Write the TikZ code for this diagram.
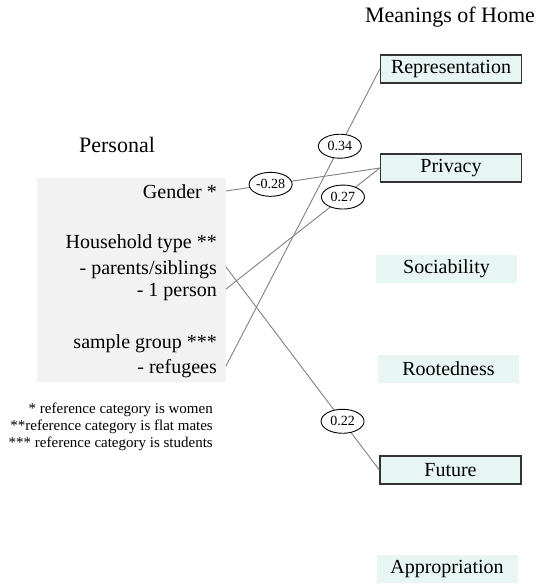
\documentclass[tikz,border=0pt]{standalone}
\usepackage{fontspec}
\setmainfont{Liberation Serif}
\usetikzlibrary{shapes.geometric}
\definecolor{meaningFill}{RGB}{232,246,243}
\definecolor{personalFill}{RGB}{242,242,242}
\begin{document}
\begin{tikzpicture}
[x=1pt,y=-1pt,
  thinLine/.style={-,color=gray,line width=0.9pt},%
  meaningBox/.style={shape=rectangle,fill=meaningFill,minimum width=141pt,minimum height=28pt,inner sep=0pt,font=\fontsize{20}{24}\selectfont},%
  linkedBox/.style={meaningBox,draw=black!80,line width=1.3pt},%
  itemText/.style={anchor=east,inner xsep=9pt,inner ysep=0pt,text height=16pt,text depth=2pt,font=\fontsize{20}{24}\selectfont},%
  noteText/.style={anchor=east,inner sep=0pt,font=\fontsize{15}{17}\selectfont},%
  titleText/.style={font=\fontsize{22}{26}\selectfont},%
  coefDecorate/.style={shape=ellipse,draw=black,text=black,fill=white,line width=0.9pt,inner sep=0pt,minimum width=43pt,minimum height=24pt,font=\fontsize{14}{16}\selectfont}]
\useasboundingbox (0,0) rectangle (546,584);
%% titles
\node (meaningsTitle) at (450,17) [titleText] {Meanings of Home};
\node (personalTitle) at (117,145) [titleText] {Personal};
%% personal block
\fill[personalFill] (37,178) rectangle (226,382);
\foreach \nodename/\y/\txt in {gender/191/{Gender *}, household/241/{Household type **}, parents/267/{- parents/siblings}, single/289/{- 1 person}, sample/341/{sample group ***}, refugees/366/{- refugees}}
{
  \node (\nodename) at (226,\y) [itemText] {\txt};
}
%% notes
\foreach \nodename/\y/\txt in {noteA/410/{* reference category is women}, noteB/427/{**reference category is flat mates}, noteC/444/{*** reference category is students}}
{
  \node (\nodename) at (213,\y) [noteText] {\txt};
}
%% meanings of home, linked ones framed
\foreach \nodename/\x/\y/\txt in {repr/451/69/Representation, priv/451/168/Privacy, fut/450.5/470/Future}
{
  \node (\nodename) at (\x,\y) [linkedBox] {\txt};
}
\foreach \nodename/\x/\y/\txt in {soc/446.5/269/Sociability, root/448.5/368.5/Rootedness, appr/447/569/Appropriation}
{
  \node (\nodename) at (\x,\y) [meaningBox] {\txt};
}
%% paths with coefficients
\path
\foreach \startnode/\endnode/\p/\val in {gender/priv/0.29/-0.28, single/priv/0.76/0.27, refugees/repr/0.74/0.34, parents/fut/0.76/0.22}
{
  (\startnode.east) edge[thinLine] node[pos=\p,coefDecorate] {\val} (\endnode.west)
};
\end{tikzpicture}
\end{document}
